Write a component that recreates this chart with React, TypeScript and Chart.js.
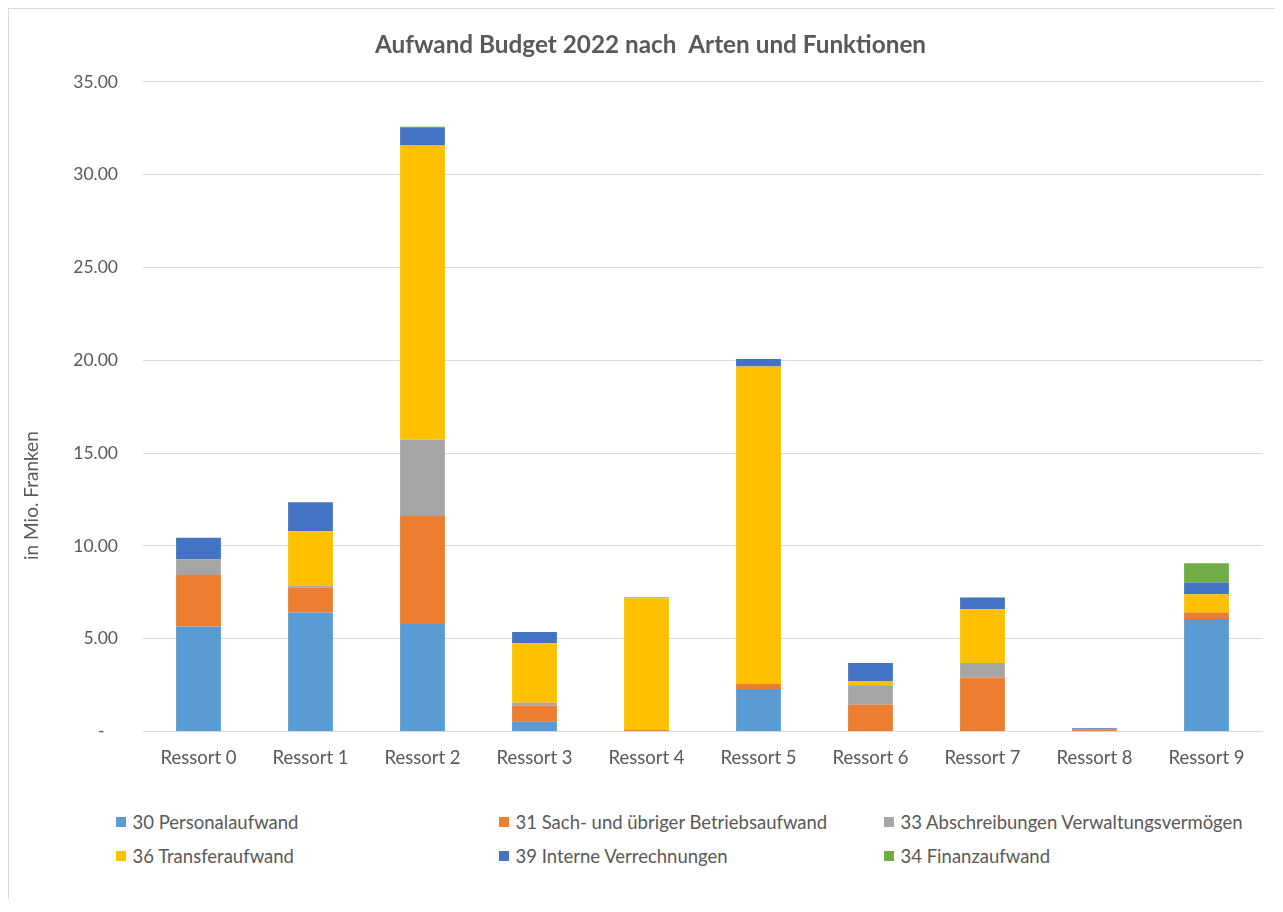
import React, { useEffect, useRef } from "react";
import { Chart, registerables } from "chart.js";

Chart.register(...registerables);

const FONT = "Lato, 'Open Sans', sans-serif";
const TEXT = "#595959";

const chartTitle = "     Aufwand Budget 2022 nach  Arten und Funktionen";
const yAxisTitle = "in Mio. Franken";

const categories = [
  "Ressort 0",
  "Ressort 1",
  "Ressort 2",
  "Ressort 3",
  "Ressort 4",
  "Ressort 5",
  "Ressort 6",
  "Ressort 7",
  "Ressort 8",
  "Ressort 9",
];

const seriesNames = [
  "30 Personalaufwand",
  "31 Sach- und übriger Betriebsaufwand",
  "33 Abschreibungen Verwaltungsvermögen",
  "36 Transferaufwand",
  "39 Interne Verrechnungen",
  "34 Finanzaufwand",
];

const seriesColors = ["#5B9BD5", "#ED7D31", "#A5A5A5", "#FFC000", "#4472C4", "#70AD47"];

const personalaufwand = [5.66, 6.41, 5.8, 0.53, 0, 2.3, 0, 0, 0, 6.07];
const sachaufwand = [2.78, 1.35, 5.82, 0.87, 0.09, 0.27, 1.45, 2.91, 0.12, 0.34];
const abschreibungen = [0.85, 0.11, 4.1, 0.16, 0, 0, 1.05, 0.79, 0, 0];
const transferaufwand = [0, 2.93, 15.85, 3.2, 7.1, 17.1, 0.23, 2.89, 0, 0.99];
const interneVerrechnungen = [1.16, 1.56, 0.95, 0.61, 0.04, 0.41, 0.97, 0.63, 0.06, 0.63];
const finanzaufwand = [0, 0, 0.07, 0, 0, 0, 0, 0, 0, 1.04];

const seriesValues = [
  personalaufwand,
  sachaufwand,
  abschreibungen,
  transferaufwand,
  interneVerrechnungen,
  finanzaufwand,
];

const yMin = 0;
const yMax = 35;
const yStep = 5;

const W = 1266;
const H = 790;

export default function App() {
  const canvasRef = useRef<HTMLCanvasElement | null>(null);

  useEffect(() => {
    if (!canvasRef.current) return;
    const yTitlePlugin = {
      id: "yTitle",
      afterDraw(chart: any) {
        const ctx = chart.ctx;
        ctx.save();
        ctx.translate(23, chart.chartArea.bottom - 236);
        ctx.rotate(-Math.PI / 2);
        ctx.textAlign = "center";
        ctx.textBaseline = "middle";
        ctx.fillStyle = TEXT;
        ctx.font = `19px ${FONT}`;
        ctx.fillText(yAxisTitle, 0, 0);
        ctx.restore();
      },
    };
    const chart = new Chart(canvasRef.current, {
      type: "bar",
      data: {
        labels: categories,
        datasets: seriesNames.map((name, i) => ({
          label: name,
          data: seriesValues[i],
          backgroundColor: seriesColors[i],
          borderWidth: 0,
          barPercentage: 0.4,
          categoryPercentage: 1,
        })),
      },
      options: {
        animation: false,
        responsive: false,
        layout: { padding: { left: 0, right: 12.5, top: 0, bottom: 0 } },
        plugins: {
          legend: { display: false },
          tooltip: { enabled: false },
          title: {
            display: true,
            text: chartTitle,
            color: TEXT,
            font: { family: FONT, size: 24.3, weight: "bold" },
            padding: { top: 21.4, bottom: 22.4 },
          },
        },
        scales: {
          x: {
            stacked: true,
            grid: { display: false, drawTicks: false },
            border: { display: false },
            ticks: { color: TEXT, font: { family: FONT, size: 18.5 }, padding: 15.5 },
            afterFit: (s: any) => {
              s.height = 67.4;
            },
          },
          y: {
            stacked: true,
            min: yMin,
            max: yMax,
            grid: { color: "#D9D9D9", drawTicks: false, lineWidth: 1 },
            border: { display: false },
            ticks: {
              stepSize: yStep,
              color: TEXT,
              font: { family: FONT, size: 17.5 },
              padding: 24.5,
              callback: (v: any) => (Number(v) === 0 ? "-   " : Number(v).toFixed(2)),
            },
            afterFit: (s: any) => {
              s.width = 133.5;
            },
          },
        },
      },
      plugins: [yTitlePlugin],
    });
    return () => chart.destroy();
  }, []);

  const legendCols = [107, 490, 875];
  const legendRows = [813, 847];

  return (
    <div
      style={{
        position: "relative",
        width: W,
        height: 890,
        borderLeft: "1px solid #D9D9D9",
        borderTop: "1px solid #D9D9D9",
        fontFamily: FONT,
        background: "#fff",
      }}
    >
      <canvas
        ref={canvasRef}
        width={W}
        height={H}
        style={{ position: "absolute", left: 0, top: 0, width: W, height: H }}
      />
      {seriesNames.map((name, i) => (
        <div
          key={name}
          style={{
            position: "absolute",
            left: legendCols[i % 3],
            top: legendRows[Math.floor(i / 3)] - 12,
            height: 24,
            display: "flex",
            alignItems: "center",
            whiteSpace: "nowrap",
            color: TEXT,
            fontSize: 18.5,
          }}
        >
          <span
            style={{
              display: "inline-block",
              width: 10,
              height: 10,
              background: seriesColors[i],
              marginRight: 6.5,
            }}
          />
          <span>{name}</span>
        </div>
      ))}
    </div>
  );
}
